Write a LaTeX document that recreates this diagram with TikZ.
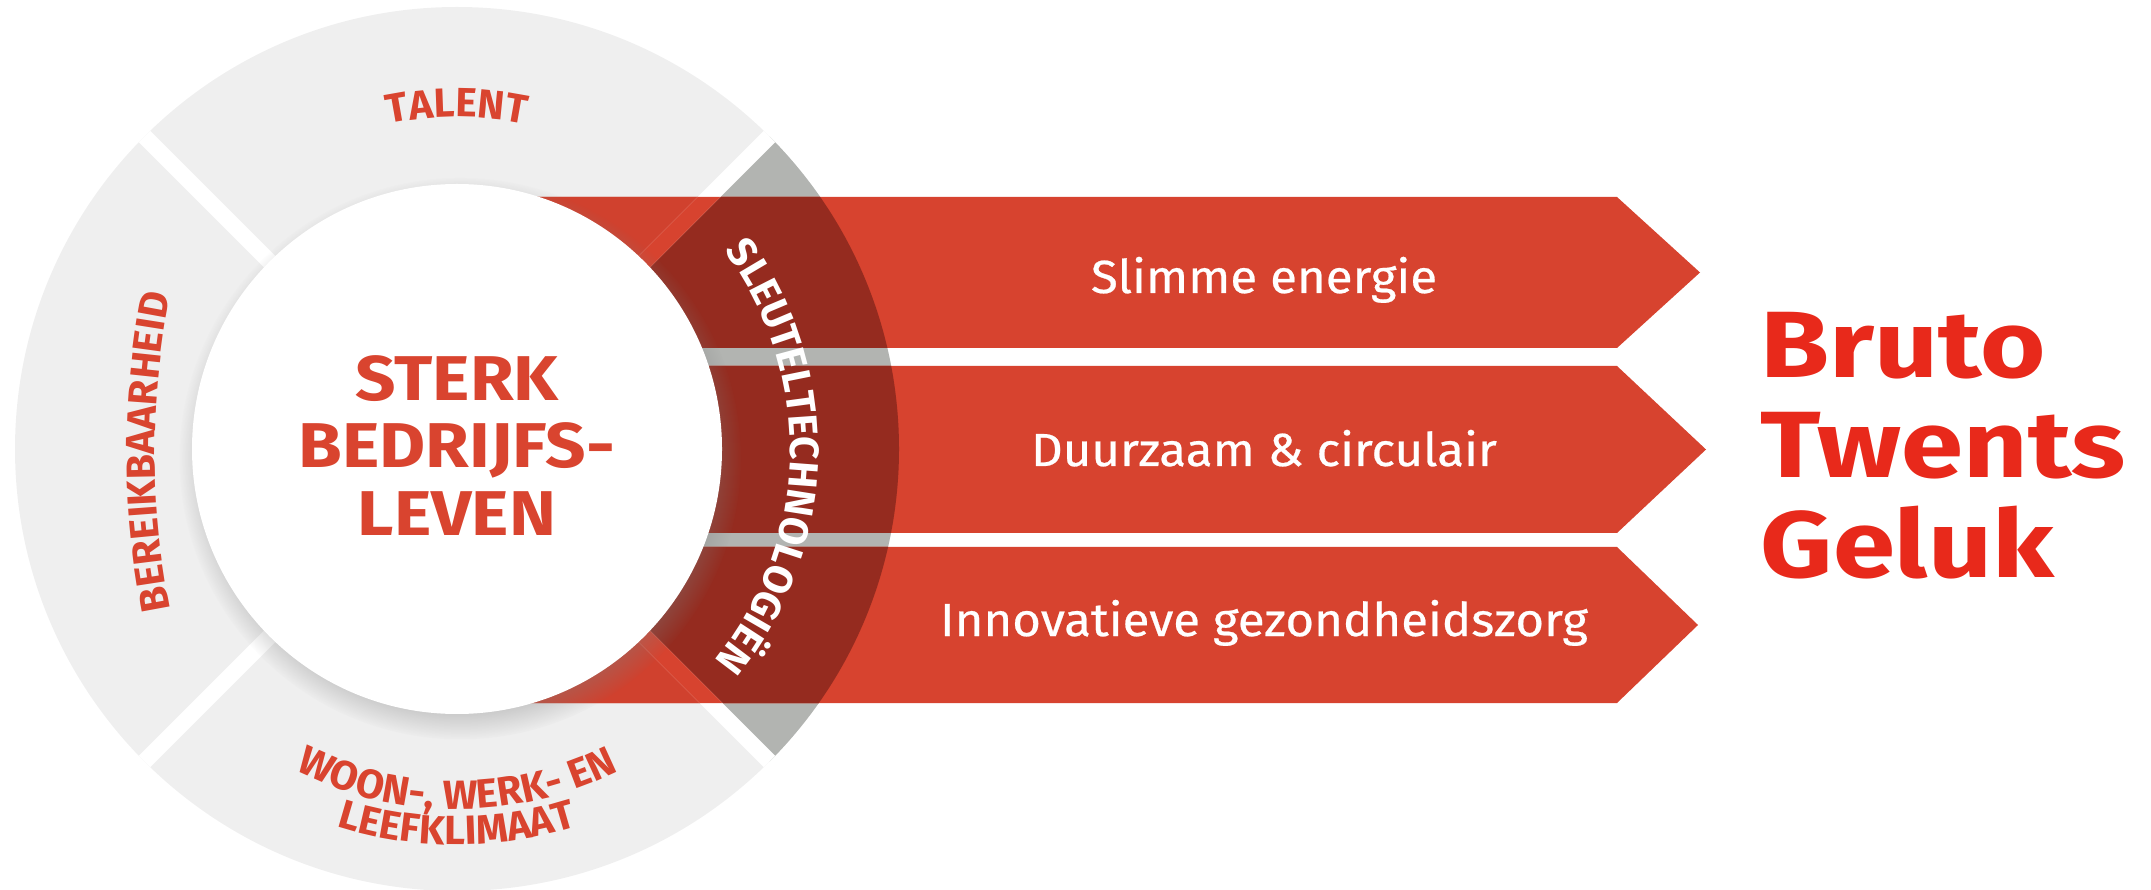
\documentclass[tikz,border=0pt]{standalone}
\usepackage{fontspec}
\setmainfont{Fira Sans}
\newfontfamily\bandfont{Fira Sans}[FakeStretch=1.06, FakeBold=0.5]
\newfontfamily\titelfont{Fira Sans}[FakeStretch=1.19]
\newfontfamily\kernfont{Fira Sans}[FakeStretch=1.12]
\usetikzlibrary{decorations.text,shadows,positioning}

% band shapes (bottom, top, tip)
\newcommand\bandpad[3]{(4.57,#1) -- (16.17,#1) -- (#3,{(#1+#2)/2}) -- (16.17,#2) -- (4.57,#2) -- cycle}
\newcommand\banden{\bandpad{5.41}{6.92}{17.00} \bandpad{3.56}{5.23}{17.06} \bandpad{1.86}{3.42}{16.98}}
\newcommand\sectorpad{(C) -- ([shift={(-45:4.42)}]C) arc[start angle=-45,end angle=45,radius=4.42] -- cycle}
\newcommand\ringfont{\bfseries\fontsize{11.6pt}{13pt}\selectfont}

\begin{document}
\begin{tikzpicture}[
    bandtekst/.style={text=white, font=\bandfont\fontsize{13.2pt}{15pt}\selectfont, inner sep=0pt, anchor=base},
    titel/.style={text=brutorood, font=\titelfont\bfseries\fontsize{26.8pt}{28pt}\selectfont, inner sep=0pt, anchor=base west},
    kern/.style={circle, fill=white, minimum size=5.3cm, inner sep=0pt,
      circular drop shadow={shadow xshift=0.03cm, shadow yshift=-0.09cm, opacity=0.5, shadow scale=1.06}},
    kerntekst/.style={align=center, text=ringtekst, inner sep=0pt, font=\kernfont\bfseries\fontsize{18pt}{19.2pt}\selectfont},
    gleuf/.style={white, line width=0.16cm},
    ringschrift/.style={decorate, decoration={text along path, text align=center, text color=ringtekst}},
  ]
\useasboundingbox (0,0) rectangle (21.51,8.89);

% Changing colors
\definecolor{ringgrijs}{HTML}{EFEFEF}%
\definecolor{sectorgrijs}{HTML}{B2B4B1}%
\definecolor{bandrood}{HTML}{D7432F}%
\definecolor{ringrood}{HTML}{D0412E}%
\definecolor{donkerrood}{HTML}{952B1F}%
\definecolor{ringtekst}{HTML}{D9442F}%
\definecolor{brutorood}{HTML}{E8291B}%

\coordinate (C) at (4.57,4.40);

% Drawing outer ring
\fill[ringgrijs] (C) circle (4.42);

% Drawing sector of the key technologies
\fill[sectorgrijs] \sectorpad;

% Drawing the three bands
\fill[bandrood] \banden;
\begin{scope}
  \clip (C) circle (4.42);
  \fill[ringrood] \banden;
\end{scope}
\begin{scope}
  \clip \sectorpad;
  \fill[donkerrood] \banden;
\end{scope}

% Drawing gaps between the ring parts
\begin{scope}
  \clip (C) circle (4.42);
  \draw[gleuf] ([shift={(135:4.5)}]C) -- ([shift={(-45:4.5)}]C);
  \draw[gleuf] ([shift={(45:4.5)}]C) -- ([shift={(225:4.5)}]C);
  \clip \banden;
  \draw[gleuf, bandrood] ([shift={(135:4.5)}]C) -- ([shift={(-45:4.5)}]C);
  \draw[gleuf, bandrood] ([shift={(45:4.5)}]C) -- ([shift={(225:4.5)}]C);
\end{scope}

% Drawing the core circle
\node[kern] (kern) at (C) {};
\node[kerntekst] (sterk) at ([yshift=0.035cm]kern.center) {STERK\\BEDRIJFS-\\LEVEN};

% Marking ring texts
\path[ringschrift, decoration={text={|\ringfont|TALENT}}]
  ([shift={(150:3.32)}]C) arc[start angle=150, end angle=30, radius=3.32];
\path[ringschrift, decoration={text={|\ringfont|BEREIKBAARHEID}}]
  (9.55,4.37) ++(195:8.0) arc[start angle=195, end angle=165, radius=8.0];
\path[ringschrift, decoration={text={|\ringfont|WOON-, WERK- EN}}]
  ([shift={(205:3.60)}]C) arc[start angle=205, end angle=335, radius=3.60];
\path[ringschrift, decoration={text={|\ringfont|LEEFKLIMAAT}}]
  ([shift={(215:3.96)}]C) arc[start angle=215, end angle=325, radius=3.96];
\path[ringschrift, decoration={text color=white, text={|\bfseries\fontsize{11.6pt}{14pt}\selectfont|SLEUTELTECHNOLOGIËN}}]
  ([shift={(63.5:3.33)}]C) arc[start angle=63.5, end angle=-66.5, radius=3.33];

% Marking band texts
\node[bandtekst] (energie) at (12.64,5.96) {Slimme energie};
\node[bandtekst] (circulair) at (12.64,4.23) {Duurzaam \& circulair};
\node[bandtekst] (zorg) at (12.64,2.53) {Innovatieve gezondheidszorg};

% Marking Bruto Twents Geluk
\node[titel] (bruto) at (17.60,5.11) {Bruto};
\node[titel] (twents) at ([yshift=-1cm]bruto.base west) {Twents};
\node[titel] (geluk) at ([yshift=-1cm]twents.base west) {Geluk};
\end{tikzpicture}
\end{document}
